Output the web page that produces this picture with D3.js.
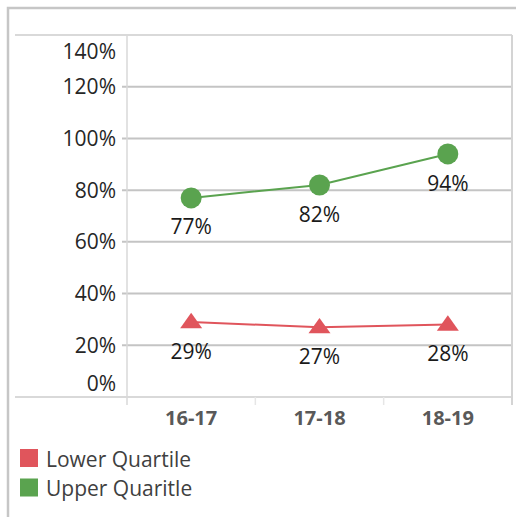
<!DOCTYPE html>
<html><head><meta charset="utf-8">
<script src="https://cdn.jsdelivr.net/npm/d3@7"></script>
<style>
html,body{margin:0;padding:0;background:#fff;}
svg{display:block;font-family:"Open Sans",sans-serif;}
</style></head>
<body>
<svg id="c" width="516" height="517"></svg>
<script>
const categories = ["16-17", "17-18", "18-19"];
const lowerQuartile = [0.29, 0.27, 0.28];
const upperQuartile = [0.77, 0.82, 0.94];
const yTicks = [0, 0.2, 0.4, 0.6, 0.8, 1.0, 1.2, 1.4];
const seriesNames = ["Lower Quartile", "Upper Quaritle"];
const seriesColors = ["#e0555c", "#5aa34f"];

const svg = d3.select("#c");
const pLeft = 127, pRight = 512, pTop = 35, pBottom = 397;

// outer frame
svg.append("path").attr("d", "M8,517 V8 H516").attr("fill", "none")
  .attr("stroke", "#c6c6c6").attr("stroke-width", 2.5);

const x = d3.scaleBand().domain(categories).range([pLeft, pRight]);
const y = d3.scaleLinear().domain([0, 1.4]).range([pBottom, pTop]);

// horizontal gridlines
const g = svg.append("g");
yTicks.forEach(t => {
  const isEdge = (t === 0 || t === 1.4);
  g.append("line")
    .attr("x1", isEdge ? 15 : 122).attr("x2", pRight)
    .attr("y1", y(t)).attr("y2", y(t))
    .attr("stroke", isEdge ? "#d9d9d9" : "#c4c4c4").attr("stroke-width", 2);
});
// vertical axis lines
g.append("line").attr("x1", pLeft).attr("x2", pLeft).attr("y1", pTop).attr("y2", pBottom + 8)
  .attr("stroke", "#d9d9d9").attr("stroke-width", 1.5);
g.append("line").attr("x1", pRight).attr("x2", pRight).attr("y1", pTop).attr("y2", pBottom + 8)
  .attr("stroke", "#d4d4d4").attr("stroke-width", 2);
categories.forEach((c, i) => {
  if (i > 0) g.append("line").attr("x1", x(c)).attr("x2", x(c)).attr("y1", pBottom).attr("y2", pBottom + 8)
    .attr("stroke", "#e6e6e6").attr("stroke-width", 1.5);
});

// y tick labels
yTicks.forEach(t => {
  const yy = Math.max(pTop + 16, Math.min(pBottom - 14, y(t)));
  svg.append("text").attr("x", 116).attr("y", yy).attr("dy", "0.36em")
    .attr("text-anchor", "end").attr("font-size", 21).attr("fill", "#262626")
    .text(d3.format(".0%")(t));
});

// x axis labels
categories.forEach(c => {
  svg.append("text").attr("x", x(c) + x.bandwidth() / 2).attr("y", 418).attr("dy", "0.36em")
    .attr("text-anchor", "middle").attr("font-size", 20).attr("font-weight", "bold")
    .attr("fill", "#595959").text(c);
});

const cx = c => x(c) + x.bandwidth() / 2;
const line = d3.line().x((d, i) => cx(categories[i])).y(d => y(d));

// lower quartile
svg.append("path").datum(lowerQuartile).attr("d", line).attr("fill", "none")
  .attr("stroke", seriesColors[0]).attr("stroke-width", 2);
const tri = d3.symbol().type(d3.symbolTriangle).size(190);
lowerQuartile.forEach((v, i) => {
  svg.append("path").attr("d", tri)
    .attr("transform", `translate(${cx(categories[i])},${y(v) + 1}) scale(1.05,0.85)`)
    .attr("fill", seriesColors[0]);
  svg.append("text").attr("x", cx(categories[i])).attr("y", y(v) + 29).attr("dy", "0.36em")
    .attr("text-anchor", "middle").attr("font-size", 21).attr("fill", "#1a1a1a")
    .text(d3.format(".0%")(v));
});

// upper quartile
svg.append("path").datum(upperQuartile).attr("d", line).attr("fill", "none")
  .attr("stroke", seriesColors[1]).attr("stroke-width", 2);
upperQuartile.forEach((v, i) => {
  svg.append("circle").attr("cx", cx(categories[i])).attr("cy", y(v)).attr("r", 10.5)
    .attr("fill", seriesColors[1]);
  svg.append("text").attr("x", cx(categories[i])).attr("y", y(v) + 29).attr("dy", "0.36em")
    .attr("text-anchor", "middle").attr("font-size", 21).attr("fill", "#1a1a1a")
    .text(d3.format(".0%")(v));
});

// legend
seriesNames.forEach((n, i) => {
  const ly = 449 + i * 29.5;
  svg.append("rect").attr("x", 20).attr("y", ly).attr("width", 18).attr("height", 18)
    .attr("fill", seriesColors[i]);
  svg.append("text").attr("x", 46).attr("y", ly + 10).attr("dy", "0.36em")
    .attr("font-size", 21).attr("fill", "#404040").text(n);
});
</script>
</body></html>
